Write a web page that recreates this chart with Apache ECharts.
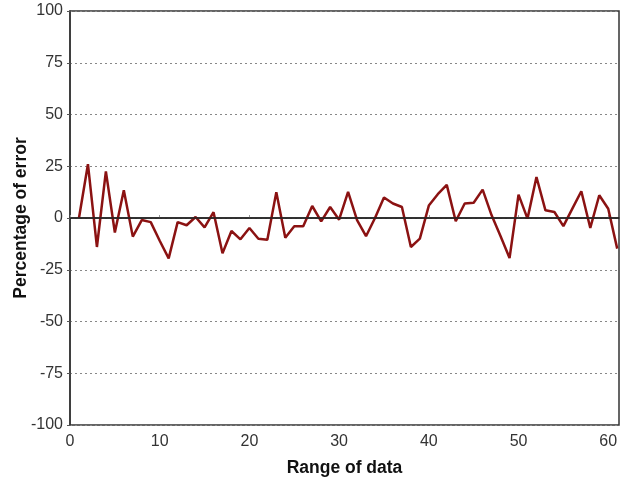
<!DOCTYPE html>
<html><head><meta charset="utf-8">
<script src="https://cdn.jsdelivr.net/npm/echarts@6/dist/echarts.min.js"></script>
<style>html,body{margin:0;padding:0;background:#fff}#c{width:632px;height:481px}</style>
</head><body><div id="c"></div>
<script>
const xValues = [1,2,3,4,5,6,7,8,9,10,11,12,13,14,15,16,17,18,19,20,21,22,23,24,25,26,27,28,29,30,31,32,33,34,35,36,37,38,39,40,41,42,43,44,45,46,47,48,49,50,51,52,53,54,55,56,57,58,59,60,61];
const errorValues = [0,26,-14,22.5,-7,13.4,-9,-1,-2,-11,-19.5,-2,-3.5,0.5,-4.5,2.8,-17,-6.3,-10.3,-4.8,-10,-10.5,12.5,-9.5,-4,-4,5.8,-1.6,5.3,-0.8,12.6,-1,-8.8,0,9.9,7,5.3,-14,-10,6,11.5,16,-1.6,7,7.4,13.7,1.3,-8.8,-19.3,11.3,-0.3,19.8,3.7,2.9,-3.9,4.5,12.9,-4.8,11,4.5,-14.8];
const yTicks = {min:-100, max:100, interval:25};
const xTicks = {min:0, max:61.2, interval:10};
const xName = 'Range of data';
const yName = 'Percentage of error';

const chart = echarts.init(document.getElementById('c'), null, {renderer:'canvas'});
const font = 'Liberation Sans, Arial, sans-serif';
chart.setOption({
  animation:false,
  grid:{left:70,right:13,top:11,bottom:56,containLabel:false,outerBoundsMode:'none',show:true,borderColor:'#333',borderWidth:1.5,backgroundColor:'transparent'},
  xAxis:{type:'value',min:xTicks.min,max:xTicks.max,interval:xTicks.interval,
    name:xName,nameLocation:'middle',nameGap:34,nameMoveOverlap:false,
    nameTextStyle:{fontFamily:font,fontSize:17.5,fontWeight:'bold',color:'#111'},
    axisLine:{show:true,lineStyle:{color:'#333',width:1.5}},
    axisTick:{show:true,inside:true,length:3,lineStyle:{color:'#999'}},
    axisLabel:{fontFamily:font,fontSize:16,color:'#333',margin:9,showMaxLabel:false},
    splitLine:{show:false}},
  yAxis:{type:'value',min:yTicks.min,max:yTicks.max,interval:yTicks.interval,
    name:yName,nameLocation:'middle',nameGap:40,nameRotate:90,nameMoveOverlap:false,
    nameTextStyle:{fontFamily:font,fontSize:17.5,fontWeight:'bold',color:'#111'},
    axisLine:{show:true,lineStyle:{color:'#333',width:1.5}},
    axisTick:{show:true,length:3,lineStyle:{color:'#555'}},
    axisLabel:{fontFamily:font,fontSize:16,color:'#333',margin:7},
    splitLine:{show:true,lineStyle:{color:'#888',type:[2,3],width:1}}},
  series:[{type:'line',data:xValues.map((x,i)=>[x,errorValues[i]]),
    symbol:'none',lineStyle:{color:'#8b1212',width:2.5},
    markLine:{silent:true,symbol:'none',label:{show:false},
      lineStyle:{color:'#222',type:'solid',width:1.5},data:[{yAxis:0}]},
    z:3}]
});
</script></body></html>
